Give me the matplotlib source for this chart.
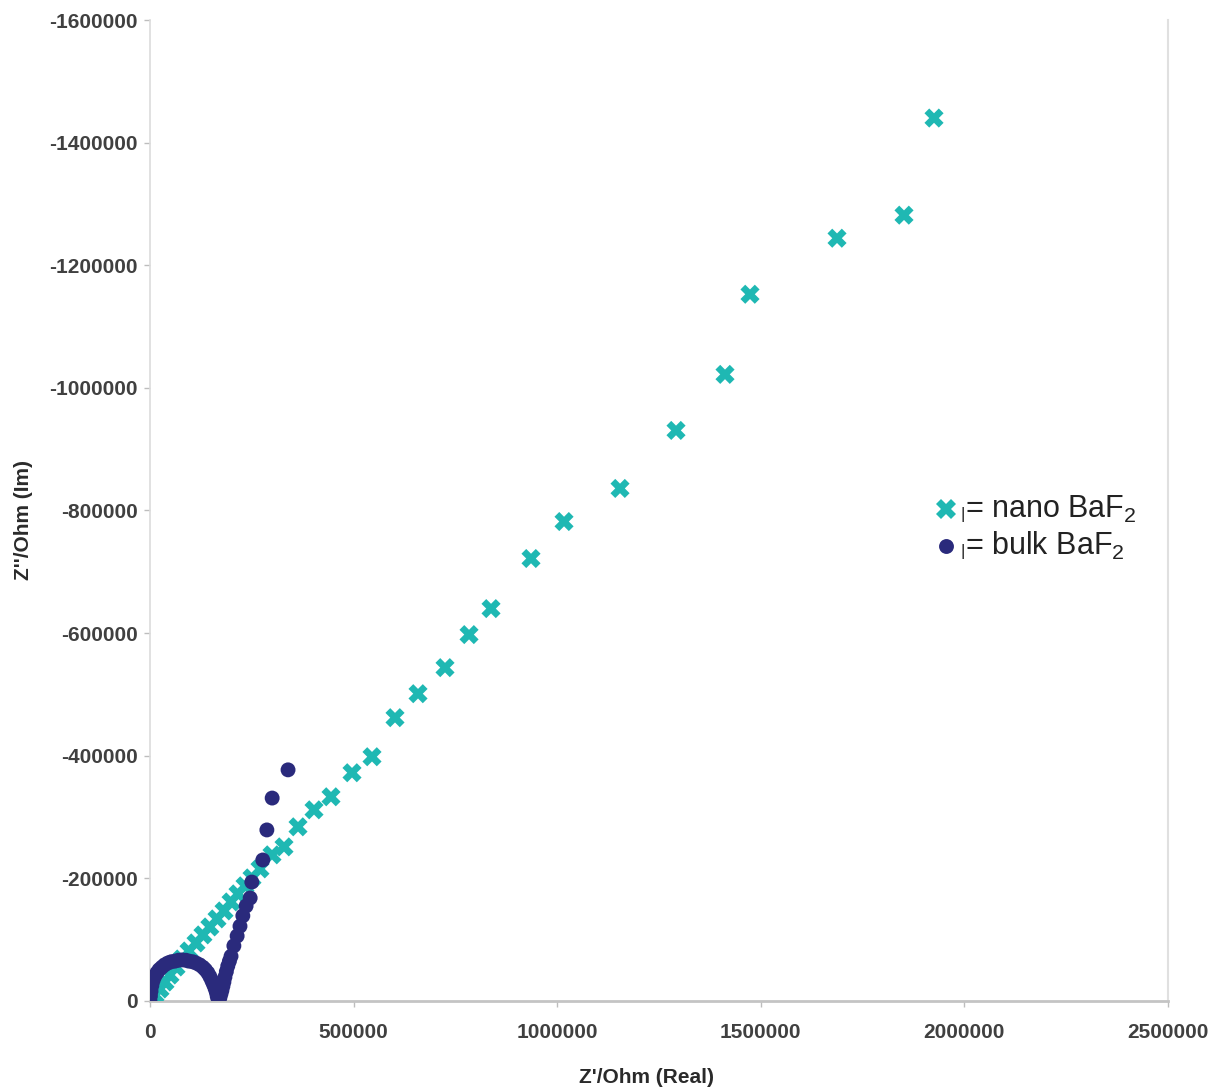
import matplotlib
matplotlib.use("Agg")
import matplotlib.pyplot as plt
from matplotlib.ticker import FixedLocator, FuncFormatter

plt.rcParams["font.family"] = ["Liberation Sans", "DejaVu Sans"]
plt.rcParams["axes.unicode_minus"] = False

# Impedance spectra: Z' (real) and Z'' (imaginary), Ohm
nano_re = [2500, 12300, 24600, 36800, 49100, 63900, 78600, 95800, 113000, 130000,
           147000, 164600, 181800, 199000, 216100, 233300, 250500, 270100, 299600,
           329100, 363500, 402800, 444500, 496100, 545200, 601700, 658200, 724500,
           783500, 837500, 935700, 1016800, 1154300, 1291800, 1412100, 1473500,
           1687200, 1851700, 1925400]
nano_im = [-3300, -9800, -19600, -31000, -42400, -55500, -68600, -81600, -94700,
           -107800, -120800, -133900, -146900, -161600, -174700, -187800, -200800,
           -215500, -238400, -251400, -284100, -311800, -333100, -372300, -398400,
           -462100, -501200, -543700, -597600, -640000, -721700, -782000, -836000,
           -930600, -1022000, -1152700, -1244100, -1281700, -1440100]

bulk_re = [0, 1000, 2500, 4500, 7400, 11500, 17000, 22500, 29000, 36000, 44000,
           52000, 61000, 70000, 79000, 88000, 96000, 105000, 113000, 122000, 130000,
           136000, 142000, 147000, 152000, 156000, 160000, 163000, 165000, 167000,
           169000, 171500, 174000, 176500, 179000, 181500, 184000, 187500, 191000,
           195000, 199000, 206000, 214000, 221000, 228000, 236000, 246000, 250000,
           277000, 287000, 300000, 339000]
bulk_im = [0, -8000, -16000, -25000, -33000, -40000, -46000, -51000, -55000, -59000,
           -62000, -64000, -65000, -66500, -67000, -66500, -65000, -64000, -62000,
           -59000, -55000, -51000, -46000, -40000, -33000, -27000, -20000, -14000,
           -8000, -4000, -500, -5000, -11000, -17000, -24000, -31000, -39000, -48000,
           -57000, -65000, -73000, -90000, -106000, -122000, -139000, -155000,
           -168000, -194000, -230000, -279000, -331000, -377000]

x_ticks = [0, 500000, 1000000, 1500000, 2000000, 2500000]
y_ticks = [0, -200000, -400000, -600000, -800000, -1000000, -1200000, -1400000, -1600000]

labels = ["nano BaF", "bulk BaF"]
nano_color = "#1fb8b3"
bulk_color = "#2a2a7c"

W, H = 1213, 1090
fig = plt.figure(figsize=(W / 100, H / 100), dpi=100)
ax = fig.add_axes([150 / W, (H - 1001) / H, 1018 / W, 981 / H])

ax.scatter(nano_re, nano_im, marker="X", s=190, color=nano_color,
           edgecolors="none", zorder=3)
ax.scatter(bulk_re, bulk_im, marker="o", s=115, color=bulk_color,
           edgecolors="none", zorder=4)

ax.set_xlim(0, 2500000)
ax.set_ylim(0, -1600000)
ax.xaxis.set_major_locator(FixedLocator(x_ticks))
ax.yaxis.set_major_locator(FixedLocator(y_ticks))
fmt = FuncFormatter(lambda v, p: str(int(round(v))))
ax.xaxis.set_major_formatter(fmt)
ax.yaxis.set_major_formatter(fmt)

tick_color = "#404040"
ax.tick_params(axis="both", which="major", length=4, width=1, color="#bdbdbd",
               labelsize=15, labelcolor=tick_color)
for lab in ax.get_xticklabels() + ax.get_yticklabels():
    lab.set_fontweight("bold")
ax.tick_params(axis="x", pad=12)
ax.tick_params(axis="y", pad=5)

ax.spines["top"].set_visible(False)
ax.spines["left"].set_color("#dcdcdc")
ax.spines["left"].set_linewidth(1.2)
ax.spines["right"].set_color("#e0e0e0")
ax.spines["right"].set_linewidth(1.5)
ax.spines["bottom"].set_color("#c4c4c4")
ax.spines["bottom"].set_linewidth(2.0)

ax.set_xlabel("Z'/Ohm (Real)", fontsize=15, fontweight="bold", color="#2a2a2a")
ax.set_ylabel("Z''/Ohm (Im)", fontsize=15, fontweight="bold", color="#2a2a2a")
ax.xaxis.set_label_coords(0.488, -0.068)
ax.yaxis.set_label_coords(-0.115, 0.49)

# Legend drawn by hand: marker, short bar and label with subscript
legend_rows = [(nano_color, "X", 190, 509, labels[0]),
               (bulk_color, "o", 115, 546, labels[1])]
for color, mk, sz, ypx, text in legend_rows:
    yf = 1 - ypx / H
    fig.add_artist(plt.Line2D([946 / W], [yf], marker=mk, markersize=(sz ** 0.5),
                              color=color, markeredgewidth=0, linestyle="none",
                              transform=fig.transFigure))
    fig.text(961 / W, yf - 0.005, "|", fontsize=12, color="#222222",
             ha="left", va="center")
    fig.text(965 / W, yf, "= " + text + r"$_\mathregular{2}$", fontsize=22,
             color="#222222", ha="left", va="center")

fig.savefig("out.png", dpi=100, facecolor="white")
